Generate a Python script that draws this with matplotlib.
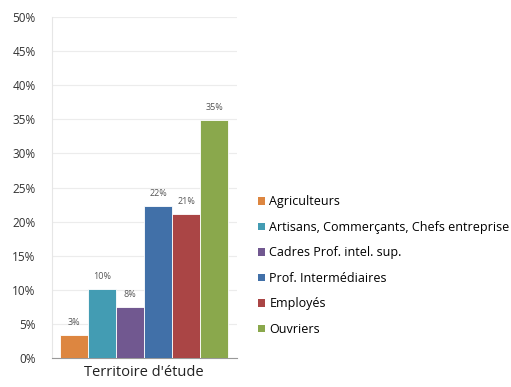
import matplotlib.pyplot as plt
import numpy as np
from matplotlib.patches import Patch

categories = ["Agriculteurs", "Artisans, Commerçants, Chefs entreprise",
              "Cadres Prof. intel. sup.", "Prof. Intermédiaires", "Employés", "Ouvriers"]
values = [3.4, 10.1, 7.5, 22.3, 21.1, 34.9]
labels = ["3%", "10%", "8%", "22%", "21%", "35%"]
colors = ["#DD8640", "#439CB3", "#715890", "#4170A8", "#AA4545", "#8AA84C"]
group = "Territoire d'étude"

plt.rcParams['font.family'] = ['Open Sans', 'DejaVu Sans']

fig = plt.figure(figsize=(5.11, 3.87), dpi=100)
ax = fig.add_axes([0.102, 0.075, 0.362, 0.881])

x = np.arange(len(values))
bars = ax.bar(x, values, width=1.0, color=colors, edgecolor="white", linewidth=0.6, zorder=3)
for b, lab in zip(bars, labels):
    ax.text(b.get_x() + b.get_width() / 2, b.get_height() + 1.2, lab,
            ha="center", va="bottom", fontsize=6.5, color="#555555")

ax.set_ylim(0, 50)
ax.set_xlim(-0.79, 5.82)
ax.set_yticks(np.arange(0, 51, 5))
ax.set_yticklabels([f"{v}%" for v in range(0, 51, 5)], fontsize=8.5, color="#333333")
ax.set_xticks([2.5])
ax.set_xticklabels([group], fontsize=10.5, color="#222222")
ax.tick_params(length=0, pad=5)
ax.tick_params(axis="y", pad=12)
ax.grid(axis="y", color="#ececec", linewidth=0.8, zorder=0)
for s in ["top", "right"]:
    ax.spines[s].set_visible(False)
ax.spines["left"].set_color("#e6e6e6")
ax.spines["bottom"].set_color("#999999")

handles = [Patch(facecolor=c, label=n) for c, n in zip(colors, categories)]
fig.legend(handles=handles, loc="upper left", bbox_to_anchor=(0.505, 0.495),
           frameon=False, fontsize=9, handlelength=0.55, handleheight=0.55,
           handletextpad=0.35, labelspacing=1.0, borderaxespad=0, borderpad=0)

fig.savefig("out.png", dpi=100)
